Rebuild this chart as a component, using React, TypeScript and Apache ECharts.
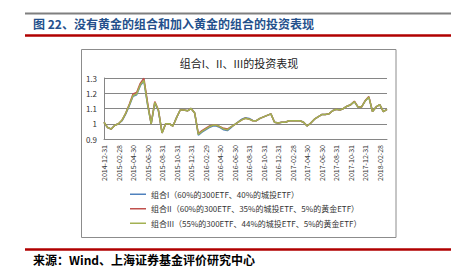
import React, { useEffect, useRef } from "react";
import * as echarts from "echarts";

const dates = [
  "2014-12-31",
  "2015-01-15", "2015-01-31", "2015-02-15", "2015-02-28", "2015-03-15", "2015-03-31",
  "2015-04-15", "2015-04-30", "2015-05-15", "2015-05-31", "2015-06-15", "2015-06-30",
  "2015-07-15", "2015-07-31", "2015-08-15", "2015-08-31", "2015-09-15", "2015-09-30",
  "2015-10-15", "2015-10-31", "2015-11-15", "2015-11-30", "2015-12-15", "2015-12-31",
  "2016-01-15", "2016-01-31", "2016-02-15", "2016-02-29", "2016-03-15", "2016-03-31",
  "2016-04-15", "2016-04-30", "2016-05-15", "2016-05-31", "2016-06-15", "2016-06-30",
  "2016-07-15", "2016-07-31", "2016-08-15", "2016-08-31", "2016-09-15", "2016-09-30",
  "2016-10-15", "2016-10-31", "2016-11-15", "2016-11-30", "2016-12-15", "2016-12-31",
  "2017-01-15", "2017-01-31", "2017-02-15", "2017-02-28", "2017-03-15", "2017-03-31",
  "2017-04-15", "2017-04-30", "2017-05-15", "2017-05-31", "2017-06-15", "2017-06-30",
  "2017-07-15", "2017-07-31", "2017-08-15", "2017-08-31", "2017-09-15", "2017-09-30",
  "2017-10-15", "2017-10-31", "2017-11-15", "2017-11-30", "2017-12-15", "2017-12-31",
  "2018-01-15", "2018-01-31", "2018-02-15", "2018-02-28", "2018-03-15", "2018-03-31",
];

const tickLabels = [
  "2014-12-31", "2015-02-28", "2015-04-30", "2015-06-30", "2015-08-31", "2015-10-31",
  "2015-12-31", "2016-02-29", "2016-04-30", "2016-06-30", "2016-08-31", "2016-10-31",
  "2016-12-31", "2017-02-28", "2017-04-30", "2017-06-30", "2017-08-31", "2017-10-31",
  "2017-12-31", "2018-02-28",
];

const seriesNames = [
  "组合I（60%的300ETF、40%的城投ETF）",
  "组合II（60%的300ETF、35%的城投ETF、5%的黄金ETF）",
  "组合III（55%的300ETF、44%的城投ETF、5%的黄金ETF）",
];

const portfolioI = [
  1.01, 0.975, 0.965, 0.99, 1.0, 1.02, 1.065, 1.12, 1.18, 1.19, 1.25, 1.28, 1.125,
  1.0, 1.135, 1.085, 0.94, 1.0, 1.0, 0.985, 1.04, 1.09, 1.09, 1.085, 1.1,
  1.07, 0.925, 0.945, 0.96, 0.975, 0.985, 0.985, 0.975, 0.96, 0.955, 0.975, 0.995,
  1.012, 1.03, 1.04, 1.035, 1.022, 1.02, 1.035, 1.045, 1.055, 1.065, 1.01, 1.005,
  1.01, 1.01, 1.02, 1.02, 1.02, 1.02, 1.01, 0.985, 1.005, 1.03, 1.045, 1.06,
  1.06, 1.065, 1.085, 1.095, 1.09, 1.1, 1.115, 1.125, 1.145, 1.11, 1.11, 1.15,
  1.175, 1.08, 1.11, 1.125, 1.08, 1.095,
];

const portfolioII = [
  1.01, 0.975, 0.965, 0.99, 1.0, 1.025, 1.07, 1.13, 1.195, 1.205, 1.265, 1.298, 1.14,
  1.0, 1.145, 1.09, 0.94, 1.0, 1.0, 0.985, 1.04, 1.09, 1.09, 1.085, 1.1,
  1.07, 0.935, 0.955, 0.97, 0.985, 0.99, 0.99, 0.98, 0.97, 0.965, 0.98, 0.995,
  1.01, 1.025, 1.036, 1.03, 1.02, 1.02, 1.035, 1.045, 1.055, 1.065, 1.01, 1.005,
  1.01, 1.01, 1.02, 1.02, 1.02, 1.02, 1.01, 0.985, 1.005, 1.03, 1.045, 1.06,
  1.06, 1.065, 1.085, 1.095, 1.09, 1.1, 1.115, 1.125, 1.148, 1.11, 1.11, 1.152,
  1.178, 1.08, 1.11, 1.125, 1.08, 1.095,
];

const portfolioIII = [
  1.01, 0.975, 0.965, 0.99, 1.0, 1.025, 1.07, 1.125, 1.185, 1.195, 1.255, 1.285, 1.13,
  1.0, 1.14, 1.09, 0.94, 1.0, 1.0, 0.985, 1.04, 1.09, 1.09, 1.085, 1.1,
  1.07, 0.93, 0.95, 0.965, 0.98, 0.99, 0.99, 0.98, 0.965, 0.96, 0.98, 0.995,
  1.01, 1.025, 1.036, 1.03, 1.02, 1.02, 1.035, 1.045, 1.055, 1.065, 1.01, 1.005,
  1.01, 1.01, 1.02, 1.02, 1.02, 1.02, 1.01, 0.985, 1.005, 1.03, 1.045, 1.06,
  1.06, 1.065, 1.085, 1.095, 1.09, 1.1, 1.115, 1.125, 1.145, 1.11, 1.11, 1.15,
  1.175, 1.08, 1.11, 1.125, 1.08, 1.095,
];

const colors = ["#4F81BD", "#C0504D", "#A3B152"];

const FONT = '"Noto Sans CJK SC", "Noto Sans", sans-serif';

export default function App() {
  const ref = useRef<HTMLDivElement>(null);
  useEffect(() => {
    if (!ref.current) return;
    const chart = echarts.init(ref.current, null, { renderer: "svg" });
    const seriesData = [portfolioI, portfolioII, portfolioIII];
    chart.setOption({
      animation: false,
      textStyle: { fontFamily: FONT },
      graphic: [
        {
          type: "line",
          shape: { x1: 25, y1: 13.5, x2: 451, y2: 13.5 },
          style: { stroke: "#7f7f7f", lineWidth: 2 },
        },
        {
          type: "text",
          x: 33,
          y: 23.5,
          style: {
            text: "图 22、没有黄金的组合和加入黄金的组合的投资表现",
            font: `bold 12px ${FONT}`,
            fill: "#24508C",
            textVerticalAlign: "middle",
          },
        },
        {
          type: "line",
          shape: { x1: 25, y1: 35.5, x2: 451, y2: 35.5 },
          style: { stroke: "#B00000", lineWidth: 2.5 },
        },
        {
          type: "rect",
          z: -1,
          shape: { x: 81.5, y: 49.5, width: 314.5, height: 188 },
          style: { stroke: "#8c8c8c", fill: "#ffffff", lineWidth: 1 },
        },
        {
          type: "text",
          x: 239,
          y: 63,
          style: {
            text: "组合I、II、III的投资表现",
            font: `11px ${FONT}`,
            fill: "#222",
            textAlign: "center",
            textVerticalAlign: "middle",
          },
        },
        {
          type: "line",
          shape: { x1: 25, y1: 249.5, x2: 451, y2: 249.5 },
          style: { stroke: "#B00000", lineWidth: 2.5 },
        },
        {
          type: "text",
          x: 33,
          y: 259,
          style: {
            text: "来源：Wind、上海证券基金评价研究中心",
            font: `bold 12px ${FONT}`,
            fill: "#000",
            textVerticalAlign: "middle",
          },
        },
      ],
      legend: {
        orient: "vertical",
        left: 130,
        top: 187,
        padding: 0,
        itemGap: 0,
        itemWidth: 16,
        itemHeight: 1.5,
        icon: "rect",
        data: seriesNames,
        textStyle: { fontSize: 8, lineHeight: 14.5, color: "#333", fontFamily: FONT },
      },
      grid: { left: 104, top: 78, width: 283, height: 61, containLabel: false },
      xAxis: {
        type: "category",
        data: dates,
        boundaryGap: false,
        axisLine: { show: true, lineStyle: { color: "#868686", width: 1 } },
        axisTick: { show: false },
        axisLabel: {
          interval: (_i: number, v: string) => tickLabels.includes(v),
          rotate: 90,
          fontSize: 7,
          margin: 6,
          color: "#333",
        },
        splitLine: { show: false },
      },
      yAxis: {
        type: "value",
        min: 0.9,
        max: 1.3,
        interval: 0.1,
        axisLine: { show: true, lineStyle: { color: "#868686", width: 1 } },
        axisTick: { show: false },
        axisLabel: { fontSize: 8, margin: 7, color: "#333" },
        splitLine: { show: true, lineStyle: { color: "#868686", width: 1 } },
      },
      series: seriesNames.map((name, k) => ({
        name,
        type: "line",
        data: seriesData[k],
        showSymbol: false,
        symbol: "none",
        color: colors[k],
        lineStyle: { color: colors[k], width: 1.5 },
        z: 2 + k,
      })),
    });
    return () => chart.dispose();
  }, []);
  return (
    <div
      ref={ref}
      style={{ position: "fixed", left: 0, top: 0, width: 460, height: 278, background: "#fff" }}
    />
  );
}
